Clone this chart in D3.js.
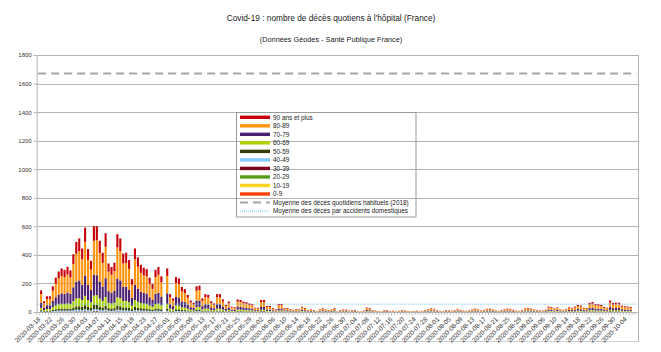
<!DOCTYPE html>
<html><head><meta charset="utf-8">
<script src="https://cdn.jsdelivr.net/npm/d3@7"></script>
<style>
body{margin:0;background:#fff}
svg{display:block;font-family:"Liberation Sans",Arial,sans-serif}
</style>
</head><body>
<svg id="c" width="661" height="352"></svg>
<script>
// ---------- DATA ----------
const axisFirstDay = "2020-03-18";
const axisLastDay = "2020-10-08";
const dataFirstDay = "2020-03-19";

const ageKeys = ["0-9","10-19","20-29","30-39","40-49","50-59","60-69","70-79","80-89","90 ans et plus"];
const ageColors = ["#ff420e","#ffd320","#579d1c","#7e0021","#83caff","#314004","#aecf00","#4b1f6f","#ff950e","#c5000b"];

const a90 = [
26,13,19,18,31,41,48,52,50,54, 49,69,83,88,76,100,75,61,102,98, 85,71,94,58,54,59,93,88,70,71,
62,39,76,65,56,53,51,41,33,50, 54,43,0,52,21,16,42,40,30,27, 20,14,11,31,31,16,21,20,13,10,
21,22,15,9,12,6,6,15,14,12, 12,10,10,5,5,14,15,7,7,5, 4,10,9,5,5,4,3,4,3,6,
5,2,3,3,1,3,5,3,2,3, 5,1,3,3,3,2,2,3,1,1, 2,5,5,2,2,1,1,3,2,1,
2,1,1,3,2,1,1,1,2,1, 2,2,3,4,4,2,1,1,3,2, 2,2,4,3,2,1,2,3,4,3,
2,3,4,4,3,2,1,3,3,4, 4,3,2,1,3,4,5,4,3,2, 2,2,3,6,6,4,5,3,2,4,
6,5,6,8,8,5,5,11,12,9, 10,8,6,5,14,11,11,11,8,7, 6,6];
const a80 = [
60,30,44,45,72,96,114,122,118,126, 116,162,196,206,178,236,176,144,240,245, 200,166,220,136,126,138,218,206,164,166,
146,92,178,154,132,124,120,96,78,118, 126,100,0,122,50,38,98,94,70,64, 48,32,26,72,74,38,50,48,30,24,
50,49,35,20,29,15,13,35,34,29, 27,24,22,12,12,34,33,17,17,11, 8,22,23,11,11,8,6,8,8,15,
11,6,8,5,3,8,11,8,6,8, 11,2,5,7,7,4,6,5,3,2, 4,12,11,6,4,3,2,5,6,3,
4,2,3,5,5,3,2,3,4,2, 3,6,8,10,9,5,3,2,5,5, 4,6,9,6,4,3,5,8,10,7,
4,6,9,10,7,5,3,5,8,10, 9,6,4,3,6,10,11,10,7,6, 5,4,6,15,14,10,13,7,6,9,
13,12,15,20,18,12,11,26,28,22, 22,20,14,12,32,25,26,26,18,16, 15,14];
const a70 = [
36,18,26,27,43,58,68,73,71,76, 70,97,118,124,107,142,106,86,144,140, 120,100,132,82,76,83,131,124,98,100,
88,55,107,92,79,74,72,58,47,71, 76,60,0,73,30,23,59,56,42,38, 29,19,16,43,44,23,30,29,18,14,
30,31,21,12,18,9,8,21,20,18, 16,14,13,7,7,20,20,10,10,7, 5,13,13,7,7,5,3,5,5,9,
7,3,5,3,2,4,7,5,3,5, 7,1,3,4,5,2,3,4,1,1, 2,7,7,3,2,2,1,3,4,2,
2,1,2,3,3,2,1,2,2,1, 2,3,5,6,5,3,2,2,3,3, 2,3,5,4,2,2,3,5,6,4,
2,3,5,6,5,3,2,3,5,6, 5,4,2,2,3,6,7,6,4,3, 3,2,4,9,8,6,8,4,3,5,
8,7,9,12,11,7,7,15,17,13, 13,12,8,7,19,15,16,15,11,10, 9,8];
const a60 = [
17,8,12,12,20,26,31,34,32,35, 32,45,54,57,49,65,48,40,66,68, 55,46,61,37,35,38,60,57,45,46,
40,25,49,42,36,34,33,26,21,32, 35,28,0,34,14,10,27,26,19,18, 13,9,7,20,20,10,14,13,8,7,
14,13,10,5,8,4,4,10,9,8, 8,7,6,3,4,9,9,5,5,3, 2,6,6,3,3,2,1,3,2,4,
3,2,2,2,1,2,3,2,2,2, 3,1,2,2,2,1,2,1,1,0, 1,3,3,2,1,1,1,2,1,1,
1,1,1,2,1,1,1,1,1,1, 1,2,2,3,2,1,1,1,2,1, 1,2,2,1,1,1,1,2,3,2,
1,2,2,2,2,1,1,2,2,3, 2,2,1,1,2,3,3,2,2,2, 1,2,2,4,4,3,4,2,2,2,
4,3,4,6,5,3,3,7,8,6, 6,6,4,3,9,7,7,8,5,4, 4,4];
const a50 = [
8,4,6,5,9,12,14,15,15,16, 15,20,25,26,22,30,22,18,30,31, 25,21,28,17,16,17,27,26,21,21,
18,12,22,19,17,16,15,12,10,15, 16,12,0,15,6,5,12,12,9,8, 6,4,3,9,9,5,6,6,4,3,
6,6,4,3,4,2,2,4,4,4, 3,3,3,2,1,4,4,2,2,1, 1,3,3,1,2,1,1,1,1,2,
1,1,1,1,0,1,1,1,1,1, 2,0,1,1,1,1,1,1,0,0, 1,2,1,1,1,0,0,1,1,0,
0,0,1,1,1,1,0,0,1,0, 0,1,1,1,1,1,1,0,1,1, 0,1,1,1,1,1,1,1,1,1,
1,1,1,1,1,1,1,1,1,1, 1,1,1,1,1,1,1,1,1,1, 1,1,1,2,2,1,1,1,1,1,
1,2,2,2,2,2,1,3,3,3, 2,3,2,2,4,3,3,3,2,2, 2,2];
const a40 = [
3,2,2,2,4,5,6,6,6,6, 6,8,10,10,9,12,9,7,12,12, 10,8,11,7,6,7,11,10,8,8,
7,5,9,8,7,6,6,5,4,6, 6,5,0,6,3,2,5,5,4,3, 3,2,1,4,4,2,3,3,2,1,
3,3,2,1,1,1,0,2,2,2, 1,1,1,1,1,2,2,1,1,1, 1,1,1,1,0,1,0,0,1,1,
1,0,0,0,0,1,1,0,0,0, 0,0,0,1,0,0,0,0,0,0, 0,1,1,0,0,0,0,0,0,0,
0,0,0,0,0,0,0,0,0,0, 0,0,1,1,1,0,0,0,0,0, 0,0,1,0,0,0,0,1,0,1,
0,0,1,1,0,0,0,0,1,0, 1,0,0,0,0,1,1,1,1,0, 0,0,0,1,1,1,1,1,0,1,
1,1,1,1,1,1,1,1,1,1, 1,1,1,1,1,1,1,1,1,1, 1,1];
const a30 = [
1,0,1,1,1,1,2,2,2,2, 2,2,3,3,3,4,3,2,4,4, 3,2,3,2,2,2,3,3,2,2,
2,1,3,2,2,2,2,1,1,2, 2,2,0,2,1,1,1,1,1,1, 1,0,1,1,2,1,1,1,0,1,
1,1,1,0,1,1,0,1,1,0, 1,1,1,0,0,1,1,0,0,0, 0,1,1,0,0,0,0,0,0,0,
0,0,0,0,0,0,0,0,0,0, 0,0,0,0,0,0,0,0,0,0, 0,1,0,0,0,0,0,0,0,0,
0,0,0,0,0,0,0,0,0,0, 0,0,0,0,0,0,0,0,0,0, 0,0,0,0,0,0,0,0,0,0,
0,0,0,0,0,0,0,0,0,0, 0,0,0,0,0,0,0,0,0,0, 0,0,0,1,0,0,0,0,0,0,
0,0,1,1,0,0,0,1,1,1, 1,0,0,0,1,1,1,1,0,0, 1,0];
const a20 = [
0,0,0,0,0,1,1,1,1,1, 1,1,1,1,1,1,1,1,2,2, 1,1,1,1,0,1,1,1,1,1,
1,1,1,1,1,1,1,1,1,1, 0,0,0,1,0,0,1,1,0,1, 0,0,0,0,1,0,0,0,0,0,
0,0,0,0,0,0,0,0,0,0, 0,0,0,0,0,0,0,0,0,0, 0,0,0,0,0,0,0,0,0,0,
0,0,0,0,0,0,0,0,0,0, 0,0,0,0,0,0,0,0,0,0, 0,0,0,0,0,0,0,0,0,0,
0,0,0,0,0,0,0,0,0,0, 0,0,0,0,0,0,0,0,0,0, 0,0,0,0,0,0,0,0,0,0,
0,0,0,0,0,0,0,0,0,0, 0,0,0,0,0,0,0,0,0,0, 0,0,0,0,0,0,0,0,0,0,
0,0,0,0,0,0,0,0,0,0, 0,0,0,0,0,0,0,0,0,0, 0,0];
const a10 = [
0,0,0,0,0,0,0,0,0,0, 0,0,0,0,0,1,0,0,1,0, 0,0,1,0,0,0,0,0,0,0,
0,0,0,0,0,0,0,0,0,0, 0,0,0,0,0,0,0,0,0,0, 0,0,0,0,0,0,0,0,0,0,
0,0,0,0,0,0,0,0,0,0, 0,0,0,0,0,0,0,0,0,0, 0,0,0,0,0,0,0,0,0,0,
0,0,0,0,0,0,0,0,0,0, 0,0,0,0,0,0,0,0,0,0, 0,0,0,0,0,0,0,0,0,0,
0,0,0,0,0,0,0,0,0,0, 0,0,0,0,0,0,0,0,0,0, 0,0,0,0,0,0,0,0,0,0,
0,0,0,0,0,0,0,0,0,0, 0,0,0,0,0,0,0,0,0,0, 0,0,0,0,0,0,0,0,0,0,
0,0,0,0,0,0,0,0,0,0, 0,0,0,0,0,0,0,0,0,0, 0,0];
const a0 = [
0,0,0,0,0,0,0,0,0,0, 0,0,1,0,0,0,0,0,0,1, 0,0,0,0,0,0,1,0,0,0,
0,0,0,0,0,0,0,0,0,0, 0,0,0,0,0,0,0,0,0,0, 0,0,0,0,0,0,0,0,0,0,
0,0,0,0,0,0,0,0,0,0, 0,0,0,0,0,0,0,0,0,0, 0,0,0,0,0,0,0,0,0,0,
0,0,0,0,0,0,0,0,0,0, 0,0,0,0,0,0,0,0,0,0, 0,0,0,0,0,0,0,0,0,0,
0,0,0,0,0,0,0,0,0,0, 0,0,0,0,0,0,0,0,0,0, 0,0,0,0,0,0,0,0,0,0,
0,0,0,0,0,0,0,0,0,0, 0,0,0,0,0,0,0,0,0,0, 0,0,0,0,0,0,0,0,0,0,
0,0,0,0,0,0,0,0,0,0, 0,0,0,0,0,0,0,0,0,0, 0,0];

const moyenneHabituelle = 1670;   // décès quotidiens habituels (2018)
const moyenneAccidents = 55;      // décès par accidents domestiques

const yTicks = [0,200,400,600,800,1000,1200,1400,1600,1800];
const xTickLabels = ["2020-03-18","2020-03-22","2020-03-26","2020-03-30","2020-04-03","2020-04-07","2020-04-11",
"2020-04-15","2020-04-19","2020-04-23","2020-04-27","2020-05-01","2020-05-05","2020-05-09","2020-05-13",
"2020-05-17","2020-05-21","2020-05-25","2020-05-29","2020-06-02","2020-06-06","2020-06-10","2020-06-14",
"2020-06-18","2020-06-22","2020-06-26","2020-06-30","2020-07-04","2020-07-08","2020-07-12","2020-07-16",
"2020-07-20","2020-07-24","2020-07-28","2020-08-01","2020-08-05","2020-08-09","2020-08-13","2020-08-17",
"2020-08-21","2020-08-25","2020-08-29","2020-09-02","2020-09-06","2020-09-10","2020-09-14","2020-09-18",
"2020-09-22","2020-09-26","2020-09-30","2020-10-04"];

const legendLabels = ["90 ans et plus","80-89","70-79","60-69","50-59","40-49","30-39","20-29","10-19","0-9"];
const lineLabels = ["Moyenne des décès quotidiens habituels (2018)","Moyenne des décès par accidents domestiques"];

const titleText = "Covid-19 : nombre de décès quotiens à l'hôpital (France)";
const subtitleText = "(Données Géodes - Santé Publique France)";

// ---------- BUILD ----------
const series = [a0,a10,a20,a30,a40,a50,a60,a70,a80,a90];
series.forEach((s,i)=>{ if (s.length !== a90.length) throw new Error("length mismatch " + ageKeys[i] + " " + s.length); });

const parse = d3.utcParse("%Y-%m-%d"), fmt = d3.utcFormat("%Y-%m-%d");
const categories = d3.utcDay.range(parse(axisFirstDay), d3.utcDay.offset(parse(axisLastDay), 1)).map(fmt);
const dataDays = d3.utcDay.range(parse(dataFirstDay), d3.utcDay.offset(parse(dataFirstDay), a90.length)).map(fmt);
const rows = dataDays.map((d,i)=>{ const r = {date:d}; ageKeys.forEach((k,j)=> r[k] = series[j][i]); return r; });

const svg = d3.select("#c");
svg.append("rect").attr("width",661).attr("height",352).attr("fill","#fff");

const L = 36.7, R = 638, T = 55, B = 312;
const x = d3.scaleBand().domain(categories).range([L, R]).paddingInner(0.28).paddingOuter(0.14);
const y = d3.scaleLinear().domain([0,1800]).range([B, T]);
const step = x.step();

// title
svg.append("text").attr("x",331).attr("y",21).attr("text-anchor","middle")
  .attr("font-size",8.3).attr("fill","#1a1a1a").text(titleText);
svg.append("text").attr("x",331).attr("y",42).attr("text-anchor","middle")
  .attr("font-size",7.3).attr("fill","#1a1a1a").text(subtitleText);

// grid
const grid = svg.append("g").attr("transform",`translate(${L},0)`)
  .call(d3.axisLeft(y).tickValues(yTicks).tickSize(-(R-L)).tickFormat(""));
grid.select(".domain").remove();
grid.selectAll("line").attr("stroke","#b3b3b3").attr("stroke-width",1).attr("shape-rendering","crispEdges");

// outer frame (right + bottom)
svg.append("line").attr("x1",R).attr("x2",R).attr("y1",T).attr("y2",341.5)
  .attr("stroke","#b3b3b3").attr("shape-rendering","crispEdges");
svg.append("line").attr("x1",L).attr("x2",R).attr("y1",341.5).attr("y2",341.5)
  .attr("stroke","#d0d0d0").attr("shape-rendering","crispEdges");

// bars
const stacked = d3.stack().keys(ageKeys)(rows);
svg.append("g").selectAll("g").data(stacked).join("g")
  .attr("fill",(d,i)=>ageColors[i])
  .selectAll("rect").data(d=>d).join("rect")
  .attr("x",d=>x(d.data.date)).attr("width",x.bandwidth())
  .attr("y",d=>y(d[1])).attr("height",d=>Math.max(0,y(d[0])-y(d[1])));

// reference lines
svg.append("path")
  .attr("d", d3.line().x(d=>x(d)+x.bandwidth()/2).y(()=>y(moyenneHabituelle))(categories))
  .attr("fill","none").attr("stroke","#a6a6a6").attr("stroke-width",2).attr("stroke-dasharray","8,5");
svg.append("path")
  .attr("d", d3.line().x(d=>x(d)+x.bandwidth()/2).y(()=>y(moyenneAccidents))(categories))
  .attr("fill","none").attr("stroke","#6fc0ef").attr("stroke-width",1).attr("stroke-dasharray","1,1");

// y axis
const ya = svg.append("g").attr("transform",`translate(${L},0)`)
  .call(d3.axisLeft(y).tickValues(yTicks).tickFormat(d3.format("d")).tickSize(3).tickPadding(2));
ya.select(".domain").attr("stroke","#b3b3b3");
ya.selectAll("line").attr("stroke","#b3b3b3");
ya.selectAll("text").attr("font-size",6).attr("fill","#333").attr("font-family","Liberation Sans, Arial, sans-serif");

// x axis: category ticks at boundaries
const xa = svg.append("g");
xa.append("line").attr("x1",L).attr("x2",R).attr("y1",B+0.5).attr("y2",B+0.5).attr("stroke","#b3b3b3");
xa.selectAll("line.tk").data(categories).join("line").attr("class","tk")
  .attr("x1",d=>x(d)-(step-x.bandwidth())/2).attr("x2",d=>x(d)-(step-x.bandwidth())/2)
  .attr("y1",B).attr("y2",B+3).attr("stroke","#b3b3b3").attr("stroke-width",0.8);
const xl = svg.append("g").attr("transform",`translate(0,${B})`)
  .call(d3.axisBottom(x).tickValues(xTickLabels).tickSize(0).tickPadding(0));
xl.select(".domain").remove();
xl.selectAll("text").attr("font-size",6.5).attr("fill","#333")
  .attr("font-family","Liberation Sans, Arial, sans-serif")
  .attr("text-anchor","end").attr("x",0).attr("y",0).attr("dy","0.35em")
  .attr("transform","translate(1,6) rotate(-45)");

// legend
const lg = svg.append("g");
lg.append("rect").attr("x",236.5).attr("y",112.5).attr("width",179.5).attr("height",104.5)
  .attr("fill","none").attr("stroke","#9a9a9a");
const rowY = i => 117.3 + i*8.52;
legendLabels.forEach((lab,i)=>{
  const ci = ageKeys.indexOf(lab);
  lg.append("rect").attr("x",240).attr("y",rowY(i)-1.7).attr("width",30).attr("height",3.4).attr("fill",ageColors[ci]);
  lg.append("text").attr("x",273).attr("y",rowY(i)).attr("dy","0.35em").attr("font-size",6.4).attr("fill","#222").text(lab);
});
lg.append("line").attr("x1",240).attr("x2",270).attr("y1",rowY(10)).attr("y2",rowY(10))
  .attr("stroke","#a6a6a6").attr("stroke-width",2).attr("stroke-dasharray","8,5");
lg.append("text").attr("x",273).attr("y",rowY(10)).attr("dy","0.35em").attr("font-size",6.4).attr("fill","#222").text(lineLabels[0]);
lg.append("line").attr("x1",240).attr("x2",270).attr("y1",rowY(11)).attr("y2",rowY(11))
  .attr("stroke","#6fc0ef").attr("stroke-width",1).attr("stroke-dasharray","1,1");
lg.append("text").attr("x",273).attr("y",rowY(11)).attr("dy","0.35em").attr("font-size",6.4).attr("fill","#222").text(lineLabels[1]);
</script>
</body></html>
